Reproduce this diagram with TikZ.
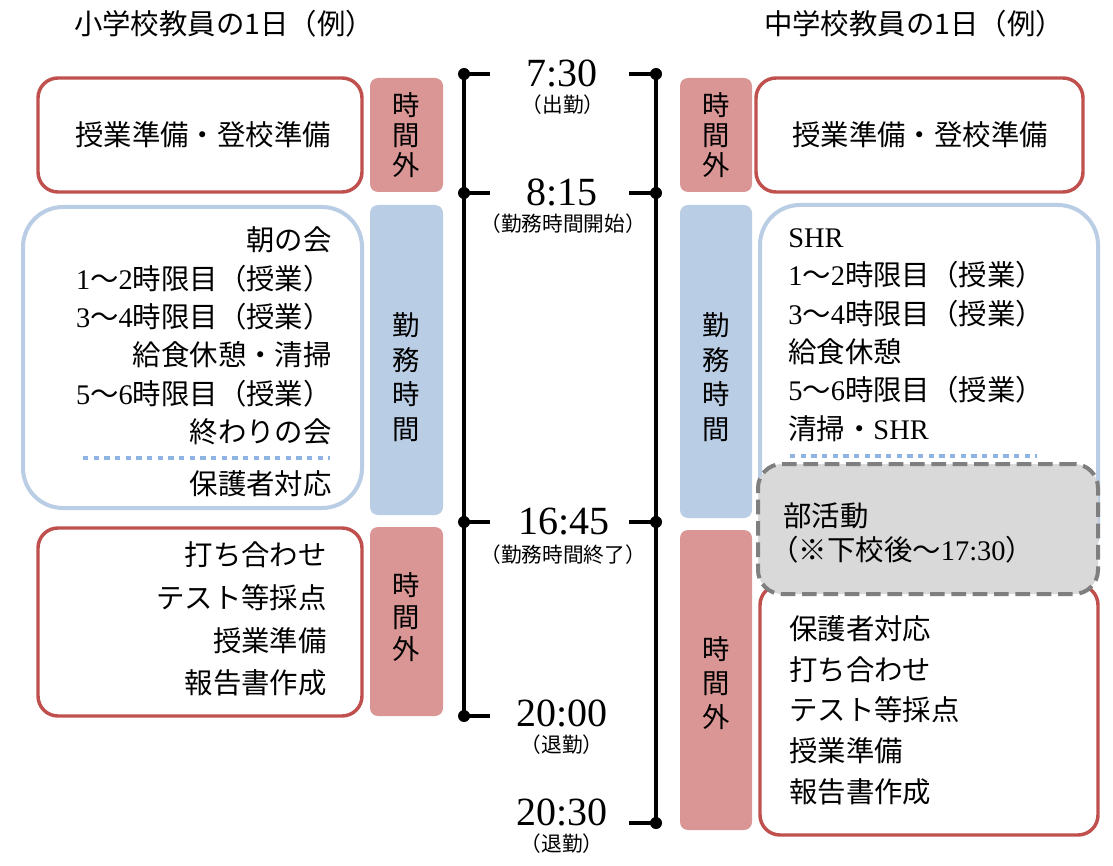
\documentclass[tikz,border=0pt]{standalone}
\usepackage{fontspec}
\setmainfont{Noto Sans CJK JP}
\newfontfamily\nm{Liberation Serif}
\usetikzlibrary{fit}
\definecolor{redb}{HTML}{C0504D}
\definecolor{redf}{HTML}{D99694}
\definecolor{blueb}{HTML}{B9CDE5}
\definecolor{bluef}{HTML}{B9CDE5}
\definecolor{dotb}{HTML}{8DB4E2}
\definecolor{grayf}{HTML}{D9D9D9}
\definecolor{grayb}{HTML}{7F7F7F}
\begin{document}
\begin{tikzpicture}[x=0.75pt,y=-0.75pt,
 redbox/.style={draw=redb, line width=2.6pt, rounded corners=15pt, inner sep=0pt, fill=white},
 bluebox/.style={draw=blueb, line width=3pt, rounded corners=30pt, inner sep=0pt, fill=white},
 redtag/.style={fill=redf, rounded corners=6pt, inner sep=0pt},
 bluetag/.style={fill=bluef, rounded corners=6pt, inner sep=0pt},
 graybox/.style={draw=grayb, fill=grayf, line width=3pt, dash pattern=on 11pt off 5pt, rounded corners=18pt, inner sep=0pt},
 body/.style={font=\fontsize{21.3}{28.8}\selectfont, inner sep=0pt},
 tagtxt/.style={font=\fontsize{20.5}{22.5}\selectfont, align=center, inner sep=0pt},
 timelbl/.style={font=\nm\fontsize{30}{32}\selectfont, inner sep=0pt},
 sublbl/.style={font=\fontsize{15.5}{17}\selectfont, inner sep=0pt},
 titlelbl/.style={font=\fontsize{21.3}{24}\selectfont, inner sep=0pt},
 tline/.style={line width=2.6pt, black},
 dotline/.style={draw=dotb, line width=3.4pt, dash pattern=on 4pt off 4pt},
]
\useasboundingbox (0,0) rectangle (1113,866);

% titles
\node[titlelbl] (t1) at (224,24) {小学校教員の1日（例）};
\node[titlelbl] (t2) at (914,24) {中学校教員の1日（例）};

% ---------- left column ----------
\node[redbox, fit={(38,78) (362,192)}] (L1) {};
\node[body] (L1t) at (203,135) {授業準備・登校準備};
\node[redtag, fit={(370,78) (443,192)}] (LT1) {};
\node[tagtxt] (LT1t) at (406,135) {時\\間\\外};

\node[bluebox, fit={(23,207) (362,508)}] (L2) {};
\node[body, align=right, anchor=east] (L2t) at (332,336) {朝の会\\{\nm 1}～{\nm 2}時限目（授業）\\{\nm 3}～{\nm 4}時限目（授業）\\給食休憩・清掃\\{\nm 5}～{\nm 6}時限目（授業）\\終わりの会};
\coordinate (Ld1) at (83,458);
\coordinate (Ld2) at (330,458);
\draw[dotline] (Ld1) -- (Ld2);
\node[body, anchor=east] (L2b) at (332,484) {保護者対応};
\node[bluetag, fit={(370,205) (443,515)}] (LT2) {};
\node[tagtxt, font=\fontsize{20.5}{26}\selectfont] (LT2t) at (406,377) {勤\\務\\時\\間};

\node[redbox, fit={(38,528) (362,716)}] (L3) {};
\node[body, align=right, anchor=east, font=\fontsize{21.3}{32}\selectfont] (L3t) at (327,619) {打ち合わせ\\テスト等採点\\授業準備\\報告書作成};
\node[redtag, fit={(370,527) (443,716)}] (LT3) {};
\node[tagtxt, font=\fontsize{20.5}{24}\selectfont] (LT3t) at (406,617) {時\\間\\外};

% ---------- timelines ----------
\coordinate (A1) at (464,74);
\coordinate (A2) at (464,193);
\coordinate (A3) at (464,522);
\coordinate (A4) at (464,716);
\coordinate (a1) at (490,74);
\coordinate (a2) at (490,193);
\coordinate (a3) at (490,522);
\coordinate (a4) at (490,716);
\coordinate (B1) at (656,74);
\coordinate (B2) at (656,193);
\coordinate (B3) at (656,522);
\coordinate (B4) at (656,823);
\coordinate (b1) at (629,74);
\coordinate (b2) at (629,193);
\coordinate (b3) at (629,522);
\coordinate (b4) at (629,823);
\draw[tline] (A1) -- (A4);
\draw[tline] (B1) -- (B4);
\foreach \i in {1,2,3,4}{
  \draw[tline] (A\i) -- (a\i);
  \draw[tline] (B\i) -- (b\i);
  \fill (A\i) circle[radius=4.5pt];
  \fill (B\i) circle[radius=4.5pt];
}

\node[timelbl] (h1) at (562,73) {7:30};
\node[sublbl] (s1) at (563,105) {（出勤）};
\node[timelbl] (h2) at (562,192) {8:15};
\node[sublbl] (s2) at (563,224) {（勤務時間開始）};
\node[timelbl] (h3) at (564,522) {16:45};
\node[sublbl] (s3) at (563,555) {（勤務時間終了）};
\node[timelbl] (h4) at (562,713) {20:00};
\node[sublbl] (s4) at (562,745) {（退勤）};
\node[timelbl] (h5) at (562,812) {20:30};
\node[sublbl] (s5) at (562,844) {（退勤）};

% ---------- right column ----------
\node[redtag, fit={(680,78) (752,192)}] (RT1) {};
\node[tagtxt] (RT1t) at (716,135) {時\\間\\外};
\node[redbox, fit={(756,78) (1083,192)}] (R1) {};
\node[body] (R1t) at (920,135) {授業準備・登校準備};

\node[bluetag, fit={(680,205) (752,518)}] (RT2) {};
\node[tagtxt, font=\fontsize{20.5}{26}\selectfont] (RT2t) at (716,377) {勤\\務\\時\\間};
\node[bluebox, fit={(760,205) (1098,570)}] (R2) {};
\node[body, align=left, anchor=west] (R2t) at (788,335) {{\nm SHR}\\{\nm 1}～{\nm 2}時限目（授業）\\{\nm 3}～{\nm 4}時限目（授業）\\給食休憩\\{\nm 5}～{\nm 6}時限目（授業）\\清掃・{\nm SHR}};
\coordinate (Rd1) at (790,456);
\coordinate (Rd2) at (1037,456);
\draw[dotline] (Rd1) -- (Rd2);

\node[redtag, fit={(680,530) (752,830)}] (RT3) {};
\node[tagtxt, font=\fontsize{20.5}{25.5}\selectfont] (RT3t) at (716,683) {時\\間\\外};
\node[redbox, fit={(760,585) (1098,835)}] (R3) {};
\node[body, align=left, anchor=west, font=\fontsize{21.3}{30.5}\selectfont] (R3t) at (789,710) {保護者対応\\打ち合わせ\\テスト等採点\\授業準備\\報告書作成};

\node[graybox, fit={(758,464) (1098,594)}] (R4) {};
\node[body, align=left, anchor=west, font=\fontsize{21.3}{26}\selectfont] (R4t) at (783,533) {部活動\\\hspace*{-0.45em}（※下校後～{\nm 17:30}）};
\end{tikzpicture}
\end{document}
